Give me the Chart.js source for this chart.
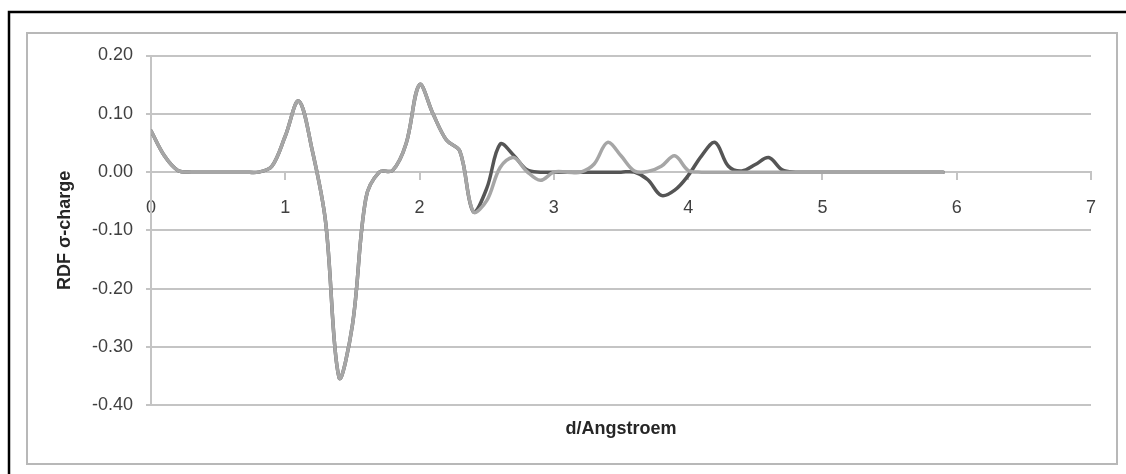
<!DOCTYPE html>
<html>
<head>
<meta charset="utf-8">
<script src="https://cdn.jsdelivr.net/npm/chart.js@4.4.1/dist/chart.umd.min.js"></script>
<style>
  html, body { margin: 0; padding: 0; background: #fff; }
  #wrap { width: 1126px; height: 474px; }
</style>
</head>
<body>
<div id="wrap"><canvas id="rdf" width="1126" height="474"></canvas></div>
<script>
// Distance grid (Angstrom) shared by both RDF curves
const distances = [
  0.0, 0.1, 0.2, 0.3, 0.4, 0.5, 0.6, 0.7, 0.8, 0.9,
  1.0, 1.1, 1.2, 1.3, 1.4, 1.5, 1.6, 1.7, 1.8, 1.9,
  2.0, 2.1, 2.2, 2.3, 2.4, 2.5, 2.6, 2.7, 2.8, 2.9,
  3.0, 3.1, 3.2, 3.3, 3.4, 3.5, 3.6, 3.7, 3.8, 3.9,
  4.0, 4.1, 4.2, 4.3, 4.4, 4.5, 4.6, 4.7, 4.8, 4.9,
  5.0, 5.1, 5.2, 5.3, 5.4, 5.5, 5.6, 5.7, 5.8, 5.9
];

// RDF weighted by sigma charge, first structure (dark curve)
const rdfDark = [
  0.071, 0.028, 0.003, 0.000, 0.000, 0.000, 0.000, 0.000, 0.000, 0.010,
  0.062, 0.122, 0.038, -0.085, -0.352, -0.262, -0.045, 0.000, 0.003, 0.049,
  0.150, 0.100, 0.055, 0.036, -0.068, -0.028, 0.048, 0.029, 0.004, 0.000,
  0.000, 0.000, 0.000, 0.000, 0.000, 0.000, 0.000, -0.013, -0.040, -0.031,
  -0.006, 0.028, 0.051, 0.010, 0.002, 0.013, 0.025, 0.004, 0.000, 0.000,
  0.000, 0.000, 0.000, 0.000, 0.000, 0.000, 0.000, 0.000, 0.000, 0.000
];

// RDF weighted by sigma charge, second structure (light curve)
const rdfLight = [
  0.071, 0.028, 0.003, 0.000, 0.000, 0.000, 0.000, 0.000, 0.000, 0.010,
  0.062, 0.122, 0.038, -0.085, -0.352, -0.262, -0.045, 0.000, 0.003, 0.049,
  0.150, 0.100, 0.055, 0.036, -0.068, -0.049, 0.008, 0.025, 0.001, -0.014,
  0.000, 0.000, 0.000, 0.014, 0.051, 0.028, 0.002, 0.001, 0.010, 0.028,
  0.003, 0.000, 0.000, 0.000, 0.000, 0.000, 0.000, 0.000, 0.000, 0.000,
  0.000, 0.000, 0.000, 0.000, 0.000, 0.000, 0.000, 0.000, 0.000, 0.000
];

// Axis tick values
const xTicks = [0, 1, 2, 3, 4, 5, 6, 7];
const yTicks = [-0.4, -0.3, -0.2, -0.1, 0.0, 0.1, 0.2];

const toPoints = (vals) => distances.map((d, i) => ({ x: d, y: vals[i] }));

const FONT = '"Liberation Sans", Arial, sans-serif';
const GRID = '#c4c4c4';

// Page frame: white background, black page rule and the grey chart border
const framePlugin = {
  id: 'frame',
  beforeDraw(chart) {
    const ctx = chart.ctx;
    ctx.save();
    ctx.fillStyle = '#ffffff';
    ctx.fillRect(0, 0, chart.width, chart.height);
    ctx.strokeStyle = '#b8b8b8';
    ctx.lineWidth = 2;
    ctx.strokeRect(27, 33, 1090, 431);
    ctx.strokeStyle = '#000000';
    ctx.lineWidth = 2.5;
    ctx.beginPath();
    ctx.moveTo(9, chart.height);
    ctx.lineTo(9, 12);
    ctx.lineTo(chart.width, 12);
    ctx.stroke();
    ctx.restore();
  }
};

new Chart(document.getElementById('rdf'), {
  type: 'line',
  data: {
    datasets: [
      {
        label: 'RDF 2',
        data: toPoints(rdfLight),
        borderColor: '#a6a6a6',
        borderWidth: 3.5,
        pointRadius: 0,
        tension: 0.35,
        borderCapStyle: 'round',
        borderJoinStyle: 'round',
        fill: false
      },
      {
        label: 'RDF 1',
        data: toPoints(rdfDark),
        borderColor: '#555555',
        borderWidth: 3.5,
        pointRadius: 0,
        tension: 0.35,
        borderCapStyle: 'round',
        borderJoinStyle: 'round',
        fill: false
      }
    ]
  },
  options: {
    responsive: false,
    animation: false,
    devicePixelRatio: 1,
    layout: { padding: { left: 45, right: 35, top: 55.5, bottom: 30 } },
    plugins: {
      legend: { display: false },
      tooltip: { enabled: false }
    },
    scales: {
      x: {
        type: 'linear',
        position: { y: 0 },
        min: 0,
        max: 7,
        afterBuildTicks: (scale) => { scale.ticks = xTicks.map(v => ({ value: v })); },
        grid: { drawOnChartArea: false, drawTicks: true, tickLength: 7, color: GRID, lineWidth: 2 },
        border: { display: true, color: GRID, width: 2 },
        ticks: {
          padding: 18,
          maxRotation: 0,
          color: '#404040',
          font: { family: FONT, size: 18 },
          callback: (v) => String(v)
        }
      },
      xTitle: {
        type: 'linear',
        position: 'bottom',
        display: true,
        grid: { display: false },
        border: { display: false },
        ticks: { display: false },
        title: {
          display: true,
          text: 'd/Angstroem',
          color: '#262626',
          font: { family: FONT, size: 18, weight: 'bold' },
          padding: { top: 5, bottom: 4 }
        }
      },
      y: {
        type: 'linear',
        position: 'left',
        min: -0.4,
        max: 0.2,
        afterBuildTicks: (scale) => { scale.ticks = yTicks.map(v => ({ value: v })); },
        afterFit: (scale) => { scale.width = 106; },
        grid: { color: GRID, lineWidth: 2, drawTicks: true, tickLength: 5 },
        border: { display: true, color: GRID, width: 2 },
        ticks: {
          padding: 13,
          color: '#404040',
          font: { family: FONT, size: 18 },
          callback: (v) => (Math.abs(v) < 1e-9 ? 0 : v).toFixed(2)
        },
        title: {
          display: true,
          text: 'RDF σ-charge',
          color: '#262626',
          font: { family: FONT, size: 18, weight: 'bold' },
          padding: { top: 9, bottom: 4 }
        }
      }
    }
  },
  plugins: [framePlugin]
});
</script>
</body>
</html>
